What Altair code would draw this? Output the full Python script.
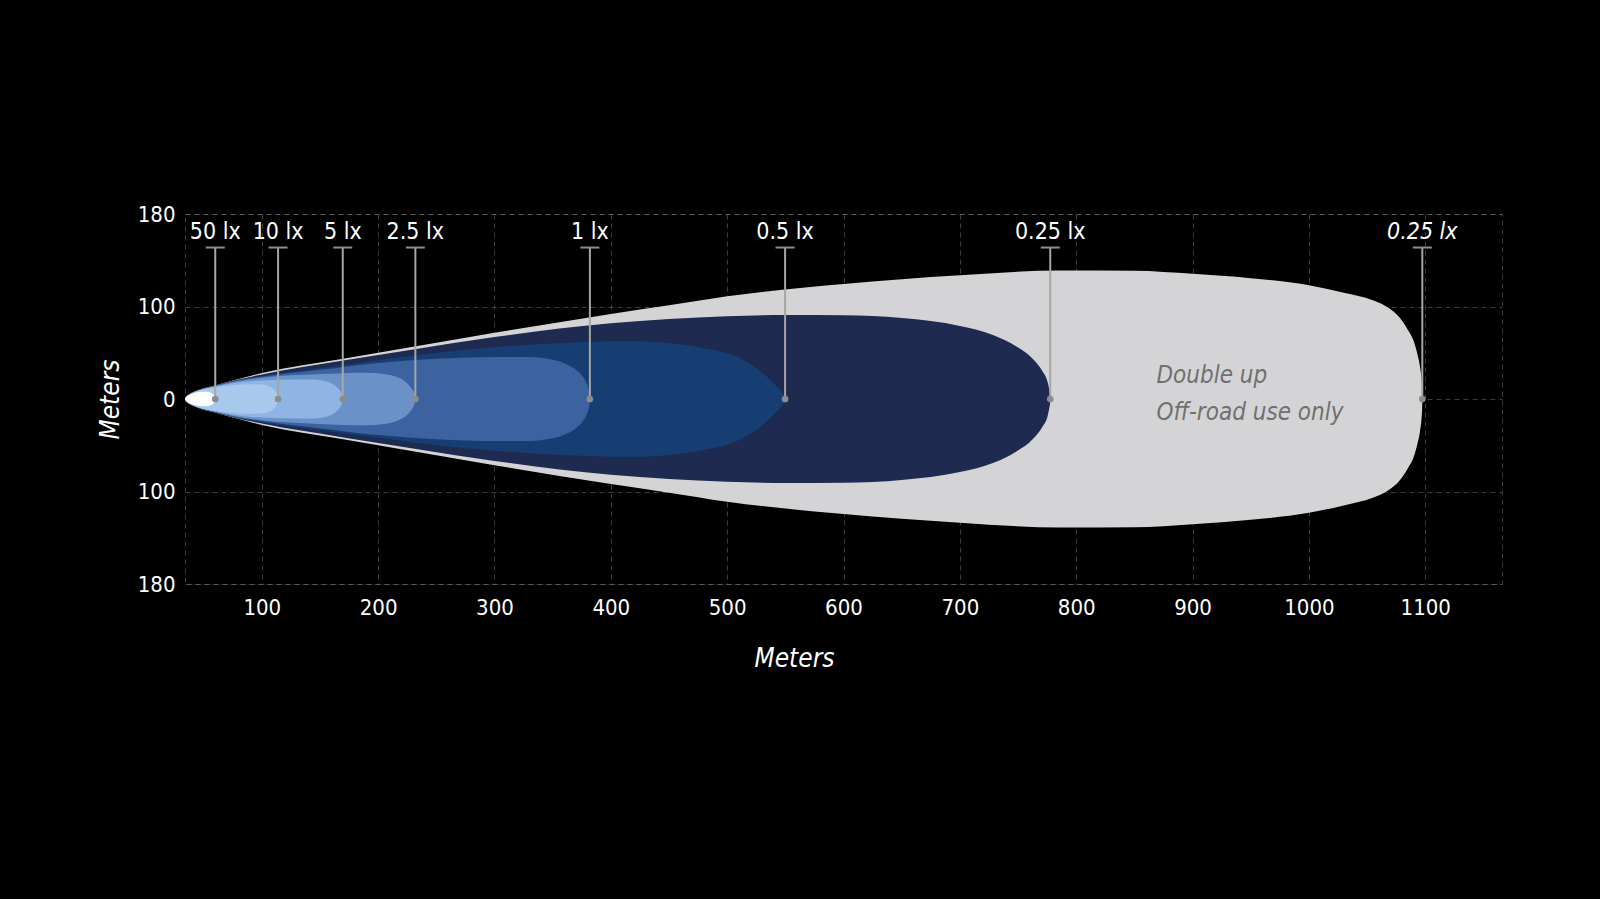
import altair as alt
import pandas as pd
import jinja2

# ---------------- data ----------------
X_TICKS = [100, 200, 300, 400, 500, 600, 700, 800, 900, 1000, 1100]
Y_TICKS = [-180, -100, 0, 100, 180]
X_DOMAIN = [34, 1166]

# isolux outlines: distance (m) and half-width (m), outer to inner
GRAY_X = [34, 35, 38, 42, 50, 58, 75, 100, 170, 230, 300, 400, 450, 500, 600, 700, 786, 850, 900, 950, 1000, 1030, 1055, 1068, 1078, 1085, 1090, 1093, 1095.5, 1096.8, 1097.3, 1097.45, 1097.5]
GRAY_H = [0, 2.5, 5.5, 8, 11.5, 14, 20, 28, 43.5, 56.5, 71.5, 92, 101, 108.8, 119.5, 127, 131.2, 131, 128.3, 124.5, 118.4, 112, 105.5, 99, 88, 75, 63, 50, 35, 22, 12, 6, 0]

NAVY_X = [34, 35, 38, 42, 50, 58, 75, 100, 170, 230, 300, 400, 450, 500, 550, 600, 650, 700, 729, 749, 763, 771, 775.5, 777, 777.6, 777.7]
NAVY_H = [0, 2.45, 5.4, 7.9, 11.35, 13.8, 19.6, 26.5, 41.5, 53.5, 67, 82, 86.5, 89.5, 90.8, 90.5, 87.5, 79, 69, 56.5, 43, 30, 18, 9, 4, 0]

B05_X = [34, 35, 38, 42, 50, 58, 75, 100, 150, 200, 250, 300, 350, 400, 420, 440, 462, 480, 500, 512, 522.6, 532, 539.8, 545, 548, 549.3, 549.8]
B05_H = [0, 2.4, 5.35, 7.8, 11.2, 13.6, 19.3, 25, 33.5, 42, 50, 56, 60, 62.3, 62.5, 61.5, 58.6, 55, 49.4, 43.5, 35.5, 26.5, 17, 10.5, 6, 3, 0]

B1_X = [34, 35, 38, 42, 50, 58, 75, 100, 150, 200, 250, 300, 330, 350, 362, 370, 376, 379.5, 381.2, 381.8, 382]
B1_H = [0, 2.4, 5.3, 7.7, 11.1, 13.5, 19, 24, 31.5, 39, 43.5, 45.5, 45.3, 42.5, 37.5, 31.5, 24, 16, 9, 4.5, 0]

B25_X = [34, 35, 38, 42, 50, 58, 75, 100, 150, 190, 205, 215, 222, 226.5, 229.5, 231.2, 232]
B25_H = [0, 2.35, 5.2, 7.6, 11, 13.3, 18.5, 23, 27, 28.5, 27, 24.2, 20, 15, 10, 5.5, 0]

B5_X = [34, 35, 38, 42, 50, 58, 75, 100, 130, 145, 152, 158, 162.5, 166, 168.3, 169.3, 169.6]
B5_H = [0, 2.3, 5.1, 7.5, 10.8, 13, 17, 20, 21, 21, 20, 18, 15, 11, 7, 3.5, 0]

B10_X = [34, 35, 38, 42, 50, 58, 75, 90, 100, 106, 110, 112.3, 113.4, 114]
B10_H = [0, 2.2, 5, 7.3, 10.5, 12.5, 15, 16, 15.6, 13.8, 10.8, 7.5, 4.5, 0]

W50_X = [34, 35, 38, 42, 48, 53, 57, 58.8, 59.6, 60]
W50_H = [0, 2, 4.5, 6.5, 7.8, 7.8, 6.2, 4.3, 2.5, 0]

SHAPES = [
    (GRAY_X, GRAY_H, "#d4d4d6"),
    (NAVY_X, NAVY_H, "#1e2a4f"),
    (B05_X, B05_H, "#173e72"),
    (B1_X, B1_H, "#3c62a0"),
    (B25_X, B25_H, "#6b92c8"),
    (B5_X, B5_H, "#8eb5e3"),
    (B10_X, B10_H, "#a8c9ed"),
    (W50_X, W50_H, "#ffffff"),
]

LUX_LABELS = ["50 lx", "10 lx", "5 lx", "2.5 lx", "1 lx", "0.5 lx", "0.25 lx", "0.25 lx"]
LUX_DIST = [60, 114, 169.6, 232, 382, 549.8, 777.7, 1097.5]
LUX_DOUBLE = [False, False, False, False, False, False, False, True]

ANNOTATION_LINES = ["Double up", "Off-road use only"]

# label / leader positions in data units
LABEL_Y = 158
BAR_Y = 151
ANN_X = 869
ANN_Y = 17

FONT = "Liberation Sans Narrow, DejaVu Sans Condensed, sans-serif"
W, H = 1317, 370

# ---------------- encodings ----------------
XSCALE = alt.Scale(domain=X_DOMAIN, nice=False, zero=False)
YSCALE = alt.Scale(domain=Y_TICKS, range=[H, H * 0.75, H * 0.5, H * 0.25, 0], nice=False, zero=False)

XAXIS = alt.Axis(
    values=X_TICKS, format="d", grid=True, ticks=False, domain=False, labelPadding=13,
    labelFontSize=22, labelFont=FONT, labelColor="#ffffff",
    title="Meters", titleFont=FONT, titleFontSize=26, titleFontStyle="italic",
    titleFontWeight="normal", titleColor="#ffffff",
    titleX=609, titleY=82, titleAlign="center", titleBaseline="alphabetic",
)
YAXIS = alt.Axis(
    values=Y_TICKS, labelExpr="'' + abs(datum.value)", grid=True, ticks=False, domain=False,
    labelPadding=10, labelFontSize=22, labelFont=FONT, labelColor="#ffffff",
    title="Meters", titleFont=FONT, titleFontSize=26, titleFontStyle="italic",
    titleFontWeight="normal", titleColor="#ffffff", titleAngle=270,
    titleX=-67, titleY=185, titleAlign="center", titleBaseline="alphabetic",
)


def X(field):
    return alt.X(f"{field}:Q", scale=XSCALE, axis=XAXIS, title="Meters")


layers = []
for xs, hs, col in SHAPES:
    df = pd.DataFrame({"x": xs, "h": hs})
    layers.append(
        alt.Chart(df)
        .transform_calculate(lo="-datum.h")
        .mark_area(color=col, opacity=1, interpolate="monotone")
        .encode(
            x=X("x"),
            y=alt.Y("h:Q", scale=YSCALE, axis=YAXIS, title="Meters", stack=None),
            y2="lo:Q",
        )
    )

lux = pd.DataFrame({"x": LUX_DIST, "label": LUX_LABELS, "double": LUX_DOUBLE})
base = alt.Chart(lux)

leader = base.mark_rule(color="#a6a6a6", strokeWidth=2).encode(
    x=X("x"), y=alt.datum(0), y2=alt.datum(BAR_Y)
)
tbar = base.mark_rule(color="#8e8e8e", strokeWidth=2, xOffset=-9.5, x2Offset=9.5).encode(
    x=X("x"), x2="x:Q", y=alt.datum(BAR_Y)
)
dots = base.mark_circle(size=45, color="#8c8c8c", opacity=1).encode(
    x=X("x"), y=alt.datum(0)
)
txt = base.transform_filter("!datum.double").mark_text(
    font=FONT, fontSize=23, color="#ffffff", align="center", baseline="alphabetic"
).encode(x=X("x"), y=alt.datum(LABEL_Y), text="label:N")
txt_it = base.transform_filter("datum.double").mark_text(
    font=FONT, fontSize=23, fontStyle="italic", color="#ffffff", align="center", baseline="alphabetic"
).encode(x=X("x"), y=alt.datum(LABEL_Y), text="label:N")

ann = alt.Chart(pd.DataFrame({"x": [ANN_X], "t": ["\n".join(ANNOTATION_LINES)]})).mark_text(
    font=FONT, fontSize=24, fontStyle="italic", color="#707070", align="left",
    baseline="alphabetic", lineBreak="\n", lineHeight=36.7
).encode(x=X("x"), y=alt.datum(ANN_Y), text="t:N")

chart = (
    alt.layer(*layers, ann, leader, tbar, dots, txt, txt_it)
    .properties(
        width=W, height=H,
        autosize=alt.AutoSizeParams(type="none"),
        padding={"left": 177, "top": 206, "right": 80, "bottom": 300},
    )
    .configure(background="#000000")
    .configure_view(stroke="#888888", strokeOpacity=0.45, strokeDash=[5, 4], strokeWidth=1)
    .configure_axis(gridColor="#888888", gridOpacity=0.45, gridDash=[5, 4], gridWidth=1, zindex=1)
)

TEMPLATE = jinja2.Template("""<!DOCTYPE html>
<html>
<head>
  <style>
    body { background: #000000; }
    #{{ output_div }}.vega-embed { width: 100%; display: flex; }
    #{{ output_div }}.vega-embed details,
    #{{ output_div }}.vega-embed details summary { position: relative; }
  </style>
  <script type="text/javascript" src="{{ base_url }}/vega@{{ vega_version }}"></script>
  <script type="text/javascript" src="{{ base_url }}/vega-lite@{{ vegalite_version }}"></script>
  <script type="text/javascript" src="{{ base_url }}/vega-embed@{{ vegaembed_version }}"></script>
</head>
<body>
  <div id="{{ output_div }}"></div>
  <script>
    (function(vegaEmbed) {
      var spec = {{ spec }};
      var embedOpt = {{ embed_options }};
      function showError(el, error){
        el.innerHTML = ('<div style="color:red;"><p>JavaScript Error: ' + error.message + '</p></div>');
        throw error;
      }
      const el = document.getElementById('{{ output_div }}');
      vegaEmbed("#{{ output_div }}", spec, embedOpt).catch(error => showError(el, error));
    })(vegaEmbed);
  </script>
</body>
</html>""")

try:
    chart.save("out.html", embed_options={"renderer": "svg", "actions": False}, template=TEMPLATE)
except TypeError:
    chart.save("out.html", embed_options={"renderer": "svg", "actions": False})
